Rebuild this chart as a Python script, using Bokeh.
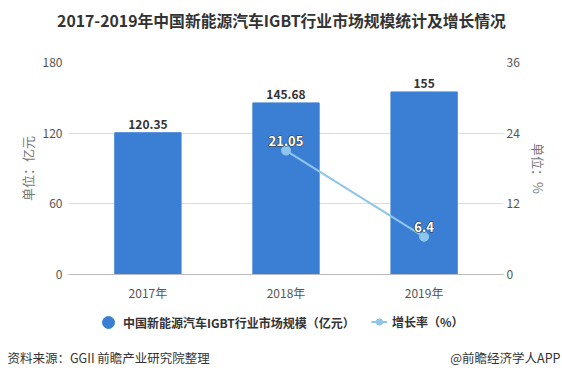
from bokeh.plotting import figure
from bokeh.models import (Range1d, FactorRange, LinearAxis, FixedTicker,
                          ColumnDataSource, Legend, LegendItem)
from bokeh.core.properties import value
from bokeh.embed import file_html
from bokeh.resources import INLINE

years = ["2017年", "2018年", "2019年"]
market_size = [120.35, 145.68, 155]
growth_years = ["2018年", "2019年"]
growth_rate = [21.05, 6.4]
left_ticks = [0, 60, 120, 180]
right_ticks = [0, 12, 24, 36]

title_text = "2017-2019年中国新能源汽车IGBT行业市场规模统计及增长情况"
bar_name = "中国新能源汽车IGBT行业市场规模（亿元）"
line_name = "增长率（%）"
source_text = "资料来源：GGII 前瞻产业研究院整理"
credit_text = "@前瞻经济学人APP"

CJK = "Noto Sans CJK SC"
BAR_COLOR = "#3a7fd4"
LINE_COLOR = "#8ec5ea"
W = 562


def strip(h):
    f = figure(width=W, height=h, output_backend="svg", toolbar_location=None,
               x_range=Range1d(0, W), y_range=Range1d(0, h),
               min_border=0, min_border_left=0, min_border_right=0,
               min_border_top=0, min_border_bottom=0,
               x_axis_type=None, y_axis_type=None)
    f.grid.visible = False
    f.outline_line_color = None
    f.background_fill_color = "white"
    f.border_fill_color = "white"
    return f


# ---- title strip
TH = 40
t_fig = strip(TH)
t_fig.text(x=[281], y=[TH - 20], text=[title_text], text_align="center",
           text_baseline="middle", text_font=value(CJK), text_font_style="bold",
           text_font_size="15.8px", text_color="#333333")

# ---- main chart
MH = 265
p = figure(width=W, height=MH, output_backend="svg", toolbar_location=None,
           x_range=FactorRange(*years, range_padding=0.05),
           y_range=Range1d(0, 180),
           min_border_left=68, min_border_right=59, min_border_top=22,
           min_border_bottom=31)
p.outline_line_color = None
p.background_fill_color = "white"
p.border_fill_color = "white"
p.extra_y_ranges = {"pct": Range1d(0, 36)}

bars = ColumnDataSource(dict(x=years, top=market_size,
                             lab=[f"{v:g}" for v in market_size]))
line_src = ColumnDataSource(dict(x=growth_years, y=growth_rate,
                                 lab=[f"{v:g}" for v in growth_rate]))

p.vbar(x="x", top="top", width=0.48, source=bars, color=BAR_COLOR)
p.text(x="x", y="top", text="lab", source=bars, text_align="center",
       text_baseline="bottom", y_offset=-4, text_font=value(CJK),
       text_font_style="bold", text_font_size="12px", text_color="#333333")

p.line(x="x", y="y", source=line_src, y_range_name="pct",
       line_color=LINE_COLOR, line_width=2)
p.scatter(x="x", y="y", source=line_src, y_range_name="pct",
          size=9, color=LINE_COLOR)
# outlined value labels: dark halo underneath, white text on top
p.text(x="x", y="y", text="lab", source=line_src, y_range_name="pct",
       text_align="center", text_baseline="bottom", y_offset=-5,
       text_font=value(CJK), text_font_style="bold", text_font_size="13px",
       text_color="#333333", text_outline_color="#333333")
p.text(x="x", y="y", text="lab", source=line_src, y_range_name="pct",
       text_align="center", text_baseline="bottom", y_offset=-5,
       text_font=value(CJK), text_font_style="bold", text_font_size="13px",
       text_color="white")

p.yaxis.ticker = FixedTicker(ticks=left_ticks)
p.yaxis.axis_label = "单位：亿元"
ax_r = LinearAxis(y_range_name="pct", ticker=FixedTicker(ticks=right_ticks),
                  axis_label="单位：%")
p.add_layout(ax_r, "right")
for ax in (p.yaxis[0], ax_r, p.xaxis[0]):
    ax.major_tick_line_color = None
    ax.minor_tick_line_color = None
    ax.major_tick_out = 0
    ax.major_tick_in = 0
    ax.minor_tick_out = 0
    ax.minor_tick_in = 0
    ax.major_label_text_font = CJK
    ax.major_label_text_font_size = "12px"
    ax.major_label_text_color = "#555555"
    ax.axis_label_text_font = CJK
    ax.axis_label_text_font_size = "13px"
    ax.axis_label_text_font_style = "normal"
    ax.axis_label_text_color = "#777777"
p.yaxis[0].axis_line_color = None
ax_r.axis_line_color = None
p.yaxis[0].major_label_standoff = 6
p.yaxis[0].axis_label_standoff = 3
ax_r.major_label_standoff = 3
ax_r.axis_label_standoff = 6

xa = p.xaxis[0]
xa.axis_line_color = "#bbbbbb"
xa.major_label_standoff = 9

p.xgrid.grid_line_color = None
p.ygrid.grid_line_color = "#dddddd"
p.ygrid.ticker = FixedTicker(ticks=left_ticks)

# ---- legend strip
LH = 37
l_fig = strip(LH)
r_leg_bar = l_fig.scatter(x=[-100], y=[-100], size=12, color=BAR_COLOR, marker="circle")
r_leg_line = l_fig.line(x=[-100, -90], y=[-100, -100], line_color=LINE_COLOR, line_width=2)
r_leg_pt = l_fig.scatter(x=[-100], y=[-100], size=7, color=LINE_COLOR, marker="circle")
common = dict(orientation="horizontal", label_text_font=CJK, label_text_font_size="12px",
              label_text_font_style="bold", label_text_color="#333333",
              margin=0, padding=0, border_line_color=None, background_fill_alpha=0)
legend1 = Legend(items=[LegendItem(label=bar_name, renderers=[r_leg_bar])],
                 location=(93, 5), glyph_width=30, glyph_height=30,
                 label_standoff=0, **common)
legend2 = Legend(items=[LegendItem(label=line_name, renderers=[r_leg_line, r_leg_pt])],
                 location=(371, 12), glyph_width=16, glyph_height=17,
                 label_standoff=5, **common)
l_fig.add_layout(legend1, "center")
l_fig.add_layout(legend2, "center")

# ---- footer strip
FH = 28
f_fig = strip(FH)
f_fig.text(x=[7], y=[13], text=[source_text], text_align="left",
           text_baseline="middle", text_font=value(CJK), text_font_size="12.5px",
           text_color="#333333")
f_fig.text(x=[560], y=[13], text=[credit_text], text_align="right",
           text_baseline="middle", text_font=value(CJK), text_font_size="12.5px",
           text_color="#333333")

open("out.html", "w").write(file_html([t_fig, p, l_fig, f_fig], INLINE))
